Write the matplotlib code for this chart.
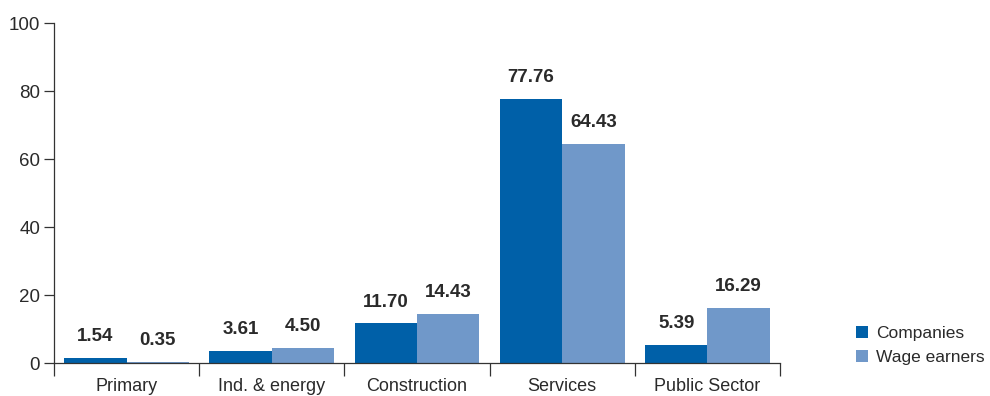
import matplotlib
matplotlib.use("Agg")
import matplotlib.pyplot as plt
import numpy as np

categories = ["Primary", "Ind. & energy", "Construction", "Services", "Public Sector"]
companies = [1.54, 3.61, 11.70, 77.76, 5.39]
wage_earners = [0.35, 4.50, 14.43, 64.43, 16.29]
series_names = ["Companies", "Wage earners"]
y_ticks = [0, 20, 40, 60, 80, 100]

dark_blue = "#0060A8"
light_blue = "#7098C9"
text_color = "#2a2a2a"

plt.rcParams["font.family"] = ["Liberation Sans", "DejaVu Sans"]

fig = plt.figure(figsize=(9.9, 3.96), dpi=100)
ax = fig.add_axes([54 / 990, 1 - 363 / 396, (780 - 54) / 990, (363 - 23) / 396])

x = np.arange(len(categories))
w = 0.43
b1 = ax.bar(x - w / 2, companies, width=w, color=dark_blue, label=series_names[0])
b2 = ax.bar(x + w / 2, wage_earners, width=w, color=light_blue, label=series_names[1])

for bars, vals in ((b1, companies), (b2, wage_earners)):
    for rect, v in zip(bars, vals):
        ax.annotate(f"{v:.2f}", (rect.get_x() + rect.get_width() / 2, v),
                    xytext=(0, 9), textcoords="offset points",
                    ha="center", va="bottom", fontsize=13.5,
                    fontweight="bold", color=text_color)

ax.set_xlim(-0.5, len(categories) - 0.5)
ax.set_ylim(0, 100)
ax.set_yticks(y_ticks)
ax.set_yticklabels([str(t) for t in y_ticks])

ax.set_xticks(x)
ax.set_xticklabels(categories)
ax.set_xticks(np.arange(-0.5, len(categories)), minor=True)
ax.tick_params(axis="x", which="major", length=0, pad=11, labelsize=13, labelcolor=text_color)
ax.tick_params(axis="x", which="minor", length=9, width=0.9, color="#333333")
ax.tick_params(axis="y", length=7, width=0.9, color="#333333", labelsize=13.5,
               labelcolor=text_color, pad=3)

for side in ("top", "right"):
    ax.spines[side].set_visible(False)
for side in ("left", "bottom"):
    ax.spines[side].set_linewidth(0.9)
    ax.spines[side].set_color("#333333")

leg = fig.legend(handles=[b1, b2], labels=series_names, loc="upper left",
                 bbox_to_anchor=(856 / 990, 1 - 326 / 396), frameon=False,
                 fontsize=12.5, handlelength=0.7, handleheight=0.7,
                 handletextpad=0.45, labelspacing=0.5, borderaxespad=0,
                 borderpad=0)
for t in leg.get_texts():
    t.set_color(text_color)

fig.savefig("out.png", dpi=100)
